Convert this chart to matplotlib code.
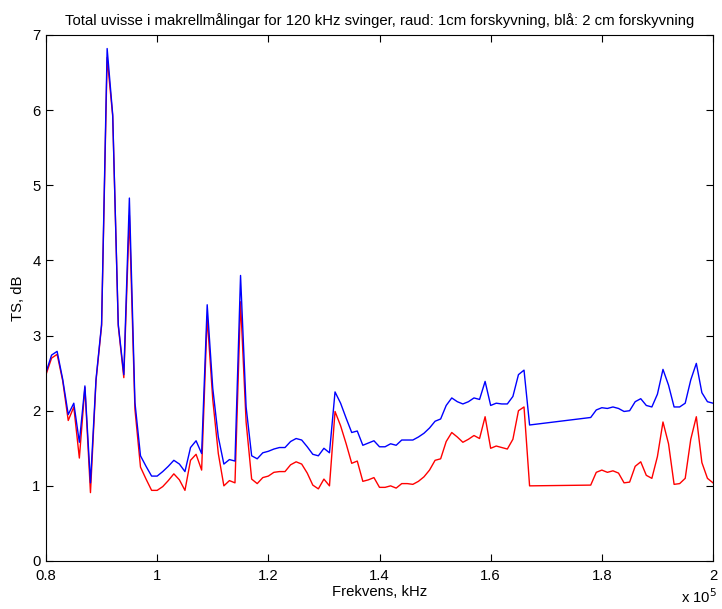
import matplotlib
matplotlib.use("Agg")
import matplotlib.pyplot as plt
import numpy as np

plt.rcParams['font.family'] = ['Liberation Sans', 'DejaVu Sans']

freq_khz = list(range(80, 168)) + list(range(178, 201))

blue = [2.51, 2.74, 2.79, 2.42, 1.95, 2.10, 1.58, 2.33, 1.04, 2.42,   # 80-89
        3.15, 6.82, 5.94, 3.15, 2.48, 4.83, 2.11, 1.40, 1.26, 1.13,   # 90-99
        1.13, 1.19, 1.26, 1.34, 1.29, 1.19, 1.51, 1.60, 1.43, 3.41,   # 100-109
        2.30, 1.65, 1.29, 1.35, 1.33, 3.80, 2.05, 1.40, 1.36, 1.44,   # 110-119
        1.46, 1.49, 1.51, 1.51, 1.59, 1.63, 1.61, 1.52, 1.42, 1.40,   # 120-129
        1.50, 1.44, 2.25, 2.10, 1.90, 1.71, 1.73, 1.54, 1.57, 1.60,   # 130-139
        1.52, 1.52, 1.56, 1.54, 1.61, 1.61, 1.61, 1.65, 1.70, 1.77,   # 140-149
        1.86, 1.89, 2.07, 2.17, 2.12, 2.09, 2.12, 2.17, 2.15, 2.39,   # 150-159
        2.07, 2.10, 2.09, 2.09, 2.19, 2.48, 2.54, 1.81,               # 160-167
        1.91, 2.01, 2.04, 2.03, 2.05, 2.03, 1.99, 2.00, 2.12, 2.16,   # 178-187
        2.07, 2.05, 2.22, 2.55, 2.34, 2.05, 2.05, 2.10, 2.41, 2.63,   # 188-197
        2.24, 2.12, 2.10]                                             # 198-200

red = [2.48, 2.70, 2.75, 2.40, 1.87, 2.05, 1.37, 2.31, 0.91, 2.40,    # 80-89
       3.13, 6.70, 5.92, 3.13, 2.44, 4.60, 2.02, 1.25, 1.09, 0.94,    # 90-99
       0.94, 0.99, 1.07, 1.16, 1.08, 0.94, 1.34, 1.42, 1.21, 3.25,    # 100-109
       2.15, 1.43, 1.00, 1.07, 1.04, 3.45, 1.85, 1.09, 1.03, 1.11,    # 110-119
       1.13, 1.18, 1.19, 1.19, 1.28, 1.32, 1.29, 1.17, 1.01, 0.96,    # 120-129
       1.09, 1.00, 1.99, 1.80, 1.56, 1.30, 1.33, 1.06, 1.08, 1.11,    # 130-139
       0.98, 0.98, 1.00, 0.97, 1.03, 1.03, 1.02, 1.06, 1.12, 1.21,    # 140-149
       1.34, 1.36, 1.59, 1.71, 1.65, 1.58, 1.62, 1.67, 1.63, 1.92,    # 150-159
       1.50, 1.53, 1.51, 1.49, 1.62, 2.00, 2.05, 1.00,                # 160-167
       1.01, 1.18, 1.21, 1.18, 1.20, 1.17, 1.04, 1.05, 1.26, 1.32,    # 178-187
       1.14, 1.10, 1.39, 1.85, 1.56, 1.02, 1.03, 1.10, 1.62, 1.92,    # 188-197
       1.31, 1.10, 1.04]                                              # 198-200

xtick_vals = [0.8e5, 1.0e5, 1.2e5, 1.4e5, 1.6e5, 1.8e5, 2.0e5]
xtick_labels = ['0.8', '1', '1.2', '1.4', '1.6', '1.8', '2']
ytick_vals = [0, 1, 2, 3, 4, 5, 6, 7]

title = ('Total uvisse i makrellmålingar for 120 kHz svinger, raud: 1cm forskyvning, '
         'blå: 2 cm forskyvning')

x = np.array(freq_khz) * 1000.0

FS = 10.7
fig = plt.figure(figsize=(7.22, 6.09), dpi=100)
ax = fig.add_axes([46/722, 1 - 561/609, (713 - 46)/722, (561 - 35)/609])

ax.plot(x, red, color='#ff0000', lw=1.0)
ax.plot(x, blue, color='#0000ff', lw=1.0)

ax.set_xlim(0.8e5, 2.0e5)
ax.set_ylim(0, 7)
ax.set_xticks(xtick_vals)
ax.set_xticklabels(xtick_labels)
ax.set_yticks(ytick_vals)
ax.tick_params(direction='in', top=True, right=True, length=5, width=0.8,
               labelsize=FS)
ax.tick_params(axis='x', pad=6)
ax.tick_params(axis='y', pad=4)
for s in ax.spines.values():
    s.set_linewidth(0.8)

ax.set_xlabel('Frekvens, kHz', fontsize=FS, labelpad=1)
ax.set_ylabel('TS, dB', fontsize=FS, labelpad=5)
ax.set_title(title, fontsize=FS, pad=7)
fig.text(681/722, 1 - 603/609, r'x 10$^{5}$', fontsize=FS, va='baseline', ha='left')

fig.savefig('out.png', dpi=100)
